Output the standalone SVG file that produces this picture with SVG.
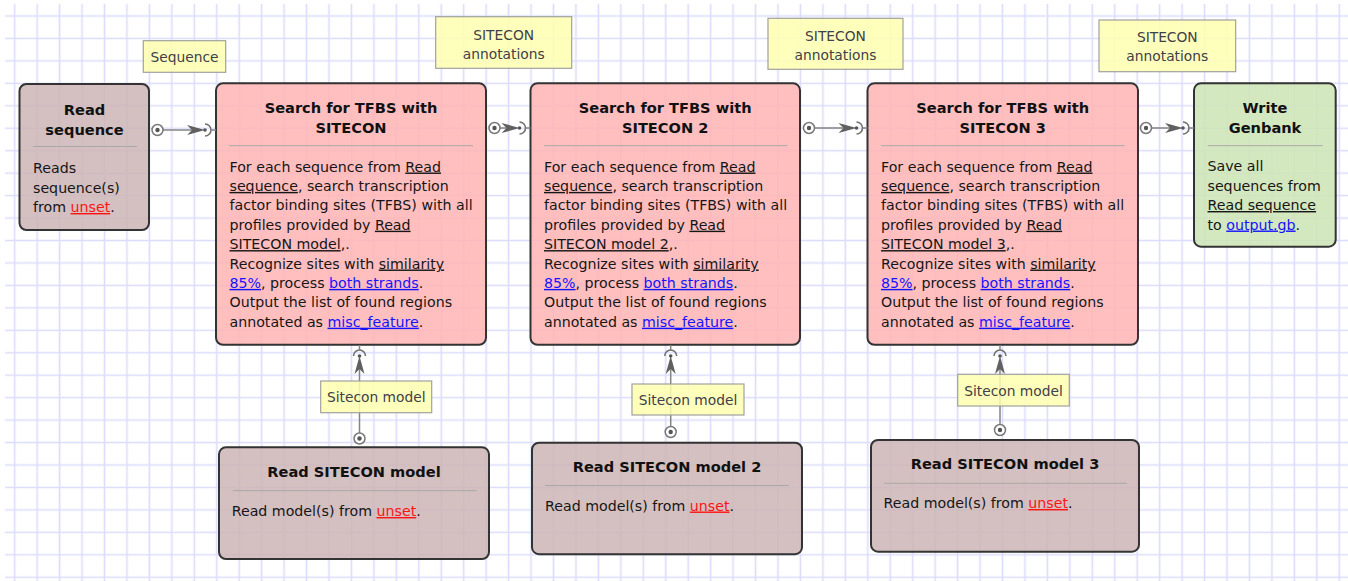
<svg xmlns="http://www.w3.org/2000/svg" width="1348" height="581" viewBox="0 0 1348 581">
<defs>
<pattern id="grid" patternUnits="userSpaceOnUse" x="3.475" y="4.775" width="22.45" height="22.45">
<path d="M11.225 0V22.45M0 11.225H22.45" stroke="#dcdcfc" stroke-width="1.6" fill="none"/>
</pattern>
<style>
text{font-family:"DejaVu Sans","Liberation Sans",sans-serif;font-size:14.2px;fill:#161616}
.h{font-weight:bold;font-size:14.6px;text-anchor:middle;fill:#111}
.u{text-decoration:underline}
.b{fill:#1414ff}
.r{fill:#ff1414}
.box{stroke:#333;stroke-width:2;fill-opacity:0.85}
.read{fill:#cdb5b5}
.srch{fill:#ffb4b4}
.wrt{fill:#cde4b5}
.sep{stroke:#a8a8a8;stroke-width:1}
.lbl rect{fill:#ffffb0;fill-opacity:0.85;stroke:#a0a0a0;stroke-width:1.2}
.lbl text{font-size:13.8px;fill:#404048;text-anchor:middle}
.wire{stroke:#858585;stroke-width:1.5;fill:none}
.arc{stroke:#707070;stroke-width:1.6;fill:none}
.outp{stroke:#777;stroke-width:1.5;fill:#fff}
.dot{fill:#555}
.head{fill:#606060}
</style>
</defs>
<rect x="0" y="0" width="1348" height="581" fill="#fff"/>
<rect x="5" y="4" width="1343" height="577" fill="url(#grid)"/>

<g id="read-sequence">
<rect class="box read" x="19.5" y="84" width="129.5" height="146" rx="7"/>
<text class="h" x="84.5" y="115">Read</text>
<text class="h" x="84.5" y="134.5">sequence</text>
<line class="sep" x1="33" y1="146.5" x2="137" y2="146.5"/>
<text x="33" y="173">Reads</text>
<text x="33" y="192.5">sequence(s)</text>
<text x="33" y="212">from <tspan class="u r">unset</tspan>.</text>
</g>

<g id="search-1">
<rect class="box srch" x="216" y="83.3" width="270" height="261.5" rx="7"/>
<text class="h" x="351" y="113.3">Search for TFBS with</text>
<text class="h" x="351" y="132.7">SITECON</text>
<line class="sep" x1="229" y1="145.7" x2="473" y2="145.7"/>
<text x="229.5" y="171.5">For each sequence from <tspan class="u">Read</tspan></text>
<text x="229.5" y="190.9"><tspan class="u">sequence</tspan>, search transcription</text>
<text x="229.5" y="210.3">factor binding sites (TFBS) with all</text>
<text x="229.5" y="229.7">profiles provided by <tspan class="u">Read</tspan></text>
<text x="229.5" y="249.1"><tspan class="u">SITECON model</tspan>,.</text>
<text x="229.5" y="268.5">Recognize sites with <tspan class="u">similarity</tspan></text>
<text x="229.5" y="287.9"><tspan class="u b">85%</tspan>, process <tspan class="u b">both strands</tspan>.</text>
<text x="229.5" y="307.3">Output the list of found regions</text>
<text x="229.5" y="326.7">annotated as <tspan class="u b">misc_feature</tspan>.</text>
</g>

<g id="search-2">
<rect class="box srch" x="530.5" y="83.3" width="269.5" height="261.5" rx="7"/>
<text class="h" x="665.2" y="113.3">Search for TFBS with</text>
<text class="h" x="665.2" y="132.7">SITECON 2</text>
<line class="sep" x1="544" y1="145.7" x2="787.5" y2="145.7"/>
<text x="544" y="171.5">For each sequence from <tspan class="u">Read</tspan></text>
<text x="544" y="190.9"><tspan class="u">sequence</tspan>, search transcription</text>
<text x="544" y="210.3">factor binding sites (TFBS) with all</text>
<text x="544" y="229.7">profiles provided by <tspan class="u">Read</tspan></text>
<text x="544" y="249.1"><tspan class="u">SITECON model 2</tspan>,.</text>
<text x="544" y="268.5">Recognize sites with <tspan class="u">similarity</tspan></text>
<text x="544" y="287.9"><tspan class="u b">85%</tspan>, process <tspan class="u b">both strands</tspan>.</text>
<text x="544" y="307.3">Output the list of found regions</text>
<text x="544" y="326.7">annotated as <tspan class="u b">misc_feature</tspan>.</text>
</g>

<g id="search-3">
<rect class="box srch" x="867.5" y="83.3" width="270.5" height="261.5" rx="7"/>
<text class="h" x="1002.7" y="113.3">Search for TFBS with</text>
<text class="h" x="1002.7" y="132.7">SITECON 3</text>
<line class="sep" x1="881" y1="145.7" x2="1124.5" y2="145.7"/>
<text x="881" y="171.5">For each sequence from <tspan class="u">Read</tspan></text>
<text x="881" y="190.9"><tspan class="u">sequence</tspan>, search transcription</text>
<text x="881" y="210.3">factor binding sites (TFBS) with all</text>
<text x="881" y="229.7">profiles provided by <tspan class="u">Read</tspan></text>
<text x="881" y="249.1"><tspan class="u">SITECON model 3</tspan>,.</text>
<text x="881" y="268.5">Recognize sites with <tspan class="u">similarity</tspan></text>
<text x="881" y="287.9"><tspan class="u b">85%</tspan>, process <tspan class="u b">both strands</tspan>.</text>
<text x="881" y="307.3">Output the list of found regions</text>
<text x="881" y="326.7">annotated as <tspan class="u b">misc_feature</tspan>.</text>
</g>

<g id="write-genbank">
<rect class="box wrt" x="1194" y="83.3" width="141.7" height="163.4" rx="7"/>
<text class="h" x="1265" y="113.3">Write</text>
<text class="h" x="1265" y="132.5">Genbank</text>
<line class="sep" x1="1207.7" y1="145.7" x2="1322.7" y2="145.7"/>
<text x="1207.5" y="171">Save all</text>
<text x="1207.5" y="190.5">sequences from</text>
<text x="1207.5" y="210"><tspan class="u">Read sequence</tspan></text>
<text x="1207.5" y="229.5">to <tspan class="u b">output.gb</tspan>.</text>
</g>

<g id="read-model-1">
<rect class="box read" x="219" y="447.3" width="270" height="111.7" rx="7"/>
<text class="h" x="354" y="477">Read SITECON model</text>
<line class="sep" x1="232.7" y1="490.7" x2="476.7" y2="490.7"/>
<text x="231.7" y="516">Read model(s) from <tspan class="u r">unset</tspan>.</text>
</g>

<g id="read-model-2">
<rect class="box read" x="532" y="442.7" width="270" height="111.5" rx="7"/>
<text class="h" x="667" y="471.5">Read SITECON model 2</text>
<line class="sep" x1="545" y1="485.5" x2="789" y2="485.5"/>
<text x="545" y="510.5">Read model(s) from <tspan class="u r">unset</tspan>.</text>
</g>

<g id="read-model-3">
<rect class="box read" x="871" y="440" width="268" height="111.7" rx="7"/>
<text class="h" x="1005" y="469.3">Read SITECON model 3</text>
<line class="sep" x1="884" y1="483.3" x2="1127" y2="483.3"/>
<text x="883.5" y="508">Read model(s) from <tspan class="u r">unset</tspan>.</text>
</g>

<g id="connectors">
<!-- read sequence -> search 1 -->
<line class="wire" x1="163" y1="130" x2="192" y2="130"/>
<polygon class="head" points="205,130 187,125 192,130 187,135"/>
<path class="arc" d="M205 124A6 6 0 0 1 205 136"/>
<line class="wire" x1="211" y1="130" x2="216" y2="130"/>
<circle class="dot" cx="205" cy="130" r="1.8"/>
<circle class="outp" cx="157.5" cy="130" r="5.5"/>
<circle class="dot" cx="157.5" cy="130" r="2.2"/>
<!-- search 1 -> search 2 -->
<line class="wire" x1="500" y1="128" x2="506.5" y2="128"/>
<polygon class="head" points="519.5,128 501.5,123 506.5,128 501.5,133"/>
<path class="arc" d="M519.5 122A6 6 0 0 1 519.5 134"/>
<line class="wire" x1="525.5" y1="128" x2="530.5" y2="128"/>
<circle class="dot" cx="519.5" cy="128" r="1.8"/>
<circle class="outp" cx="494.5" cy="128" r="5.5"/>
<circle class="dot" cx="494.5" cy="128" r="2.2"/>
<!-- search 2 -> search 3 -->
<line class="wire" x1="814.5" y1="128" x2="843.5" y2="128"/>
<polygon class="head" points="856.5,128 838.5,123 843.5,128 838.5,133"/>
<path class="arc" d="M856.5 122A6 6 0 0 1 856.5 134"/>
<line class="wire" x1="862.5" y1="128" x2="867.5" y2="128"/>
<circle class="dot" cx="856.5" cy="128" r="1.8"/>
<circle class="outp" cx="809" cy="128" r="5.5"/>
<circle class="dot" cx="809" cy="128" r="2.2"/>
<!-- search 3 -> write genbank -->
<line class="wire" x1="1151.5" y1="128" x2="1170" y2="128"/>
<polygon class="head" points="1183,128 1165,123 1170,128 1165,133"/>
<path class="arc" d="M1183 122A6 6 0 0 1 1183 134"/>
<line class="wire" x1="1189" y1="128" x2="1194" y2="128"/>
<circle class="dot" cx="1183" cy="128" r="1.8"/>
<circle class="outp" cx="1146" cy="128" r="5.5"/>
<circle class="dot" cx="1146" cy="128" r="2.2"/>
<!-- read model 1 -> search 1 -->
<line class="wire" x1="359.5" y1="433" x2="359.5" y2="369"/>
<polygon class="head" points="359.5,356 354.5,374 359.5,369 364.5,374"/>
<path class="arc" d="M353.5 356A6 6 0 0 1 365.5 356"/>
<line class="wire" x1="359.5" y1="350" x2="359.5" y2="345"/>
<circle class="dot" cx="359.5" cy="356" r="1.8"/>
<circle class="outp" cx="359.5" cy="438.5" r="5.5"/>
<circle class="dot" cx="359.5" cy="438.5" r="2.2"/>
<!-- read model 2 -> search 2 -->
<line class="wire" x1="670.7" y1="426.5" x2="670.7" y2="369"/>
<polygon class="head" points="670.7,356 665.7,374 670.7,369 675.7,374"/>
<path class="arc" d="M664.7 356A6 6 0 0 1 676.7 356"/>
<line class="wire" x1="670.7" y1="350" x2="670.7" y2="345"/>
<circle class="dot" cx="670.7" cy="356" r="1.8"/>
<circle class="outp" cx="670.7" cy="432" r="5.5"/>
<circle class="dot" cx="670.7" cy="432" r="2.2"/>
<!-- read model 3 -> search 3 -->
<line class="wire" x1="1000" y1="424.5" x2="1000" y2="369"/>
<polygon class="head" points="1000,356 995,374 1000,369 1005,374"/>
<path class="arc" d="M994 356A6 6 0 0 1 1006 356"/>
<line class="wire" x1="1000" y1="350" x2="1000" y2="345"/>
<circle class="dot" cx="1000" cy="356" r="1.8"/>
<circle class="outp" cx="1000" cy="430" r="5.5"/>
<circle class="dot" cx="1000" cy="430" r="2.2"/>
</g>

<g id="labels" class="lbl">
<g id="label-sequence"><rect x="143.3" y="40.7" width="82.4" height="31.6"/><text x="184.5" y="61.5">Sequence</text></g>
<g id="label-ann-1"><rect x="435.7" y="16.7" width="136" height="51.6"/><text x="503.7" y="39.5">SITECON</text><text x="503.7" y="58.5">annotations</text></g>
<g id="label-ann-2"><rect x="768" y="18.3" width="135" height="51"/><text x="835.5" y="40.5">SITECON</text><text x="835.5" y="59.5">annotations</text></g>
<g id="label-ann-3"><rect x="1099" y="20" width="136.7" height="51.7"/><text x="1167.3" y="42">SITECON</text><text x="1167.3" y="61">annotations</text></g>
<g id="label-model-1"><rect x="320.7" y="381" width="111" height="31.7"/><text x="376.2" y="402.3">Sitecon model</text></g>
<g id="label-model-2"><rect x="632" y="384" width="112" height="31"/><text x="688" y="405">Sitecon model</text></g>
<g id="label-model-3"><rect x="957.7" y="374.3" width="111.6" height="31.7"/><text x="1013.5" y="395.8">Sitecon model</text></g>
</g>
</svg>
